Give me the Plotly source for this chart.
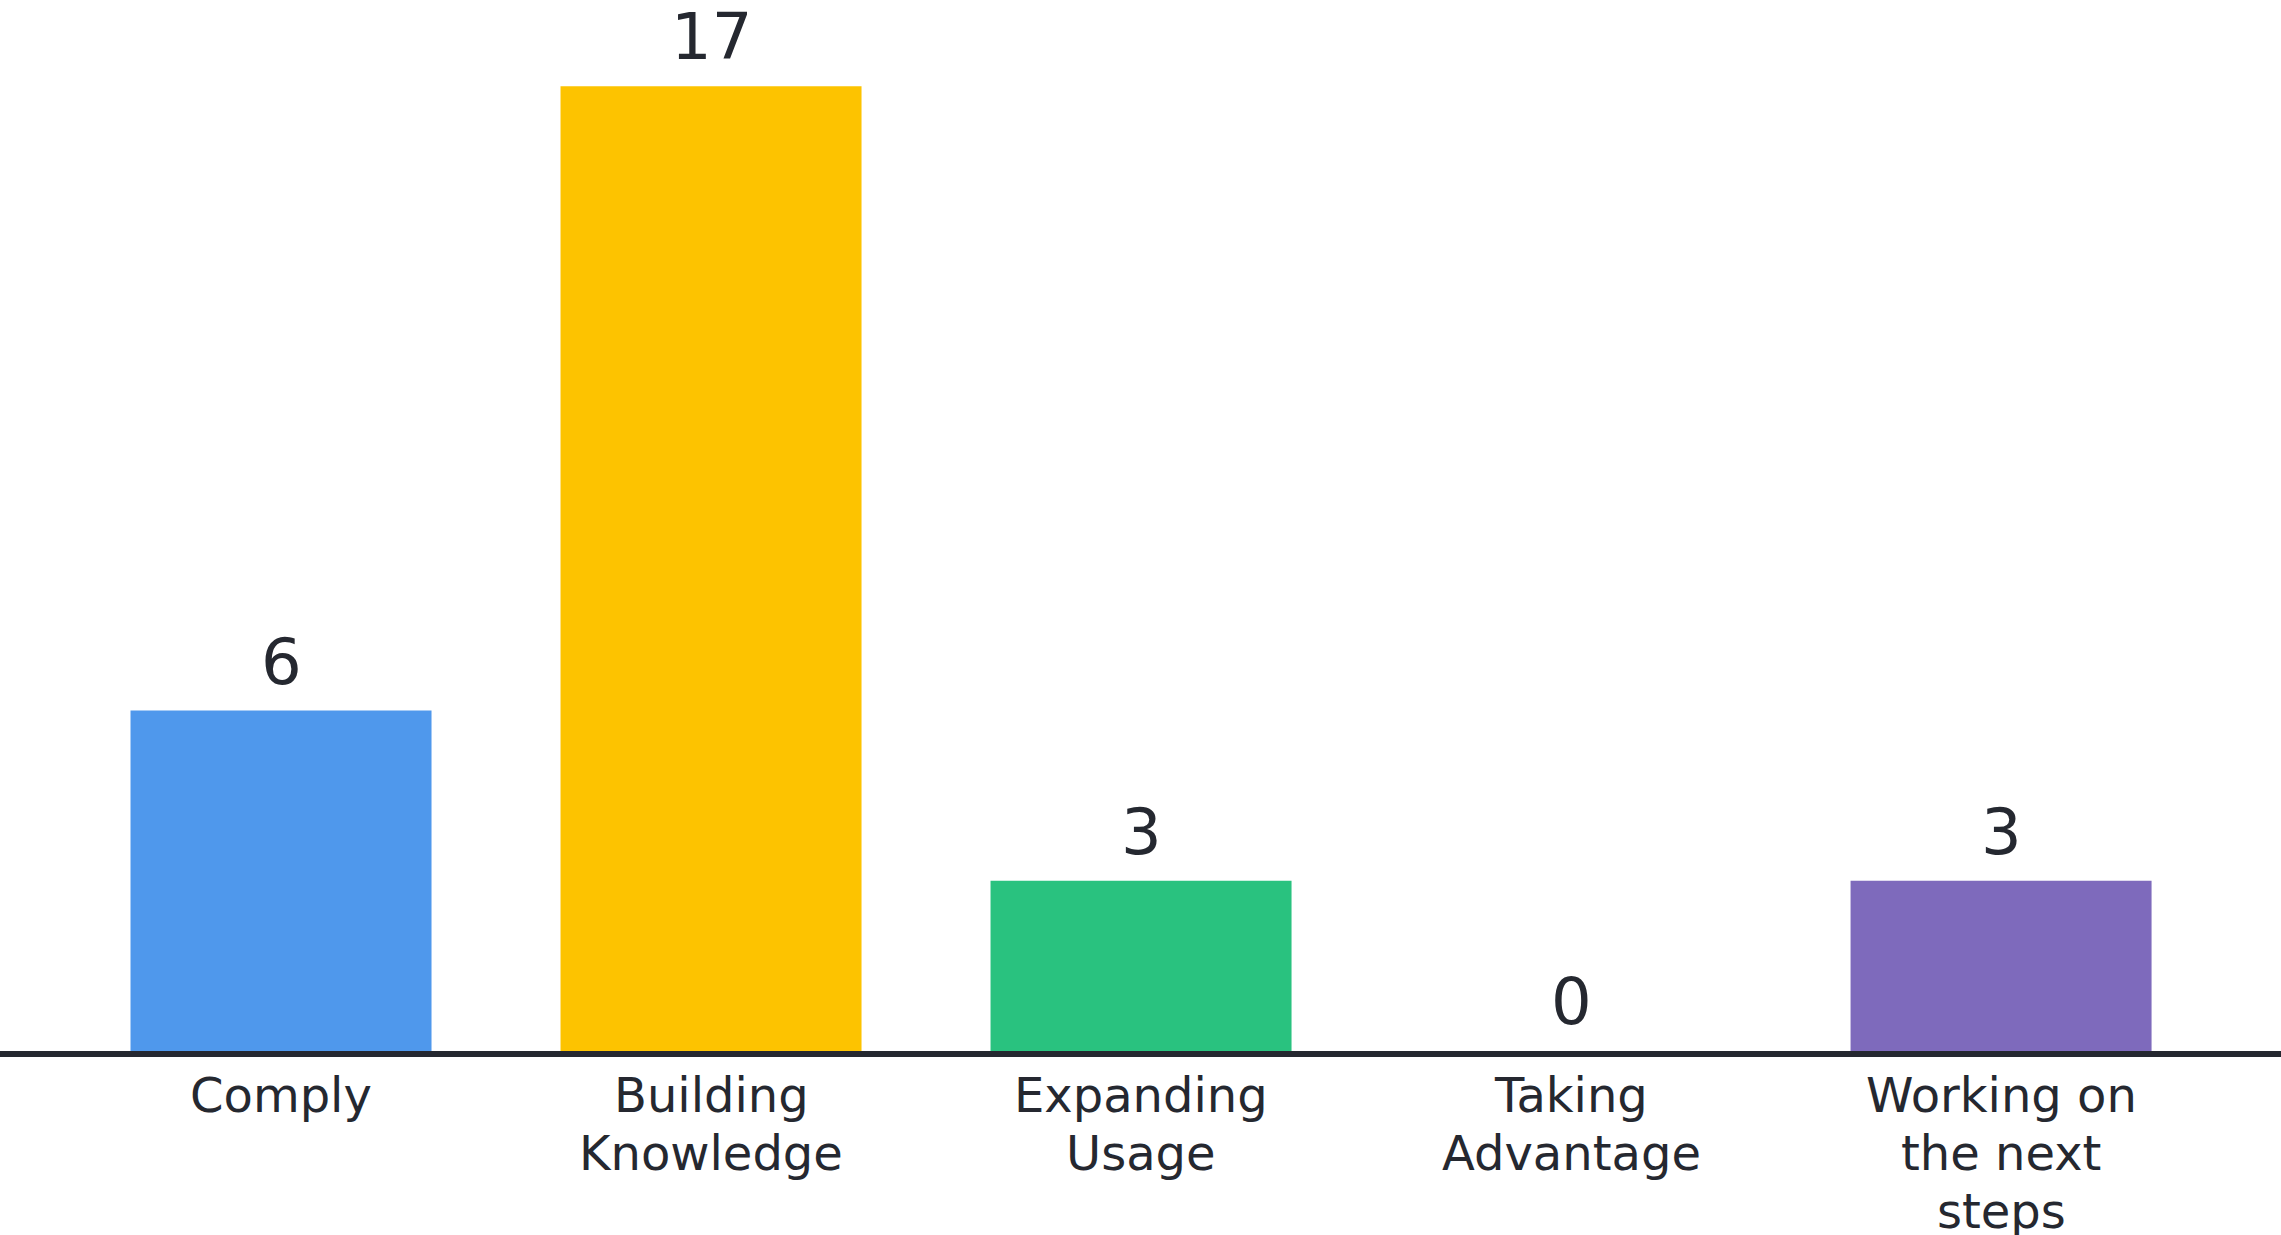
import plotly.graph_objects as go

categories = ["Comply", "Building Knowledge", "Expanding Usage", "Taking Advantage", "Working on the next steps"]
label_lines = [["Comply"], ["Building", "Knowledge"], ["Expanding", "Usage"], ["Taking", "Advantage"], ["Working on", "the next", "steps"]]
values = [6, 17, 3, 0, 3]
colors = ["#4F98EC", "#FDC300", "#29C27F", "#7E6ABC", "#7E6ABC"]

text_color = "#252830"
label_font = "'DejaVu Sans', Lato, sans-serif"

fig = go.Figure()
fig.add_trace(go.Bar(
    x=list(range(len(categories))),
    y=values,
    marker=dict(color=colors, line=dict(width=0)),
    width=0.70,
    hoverinfo="skip",
))

for i, v in enumerate(values):
    fig.add_annotation(
        x=i, y=v, xref="x", yref="y",
        text=str(v), showarrow=False,
        yanchor="bottom", yshift=10,
        font=dict(family=label_font, size=64, color=text_color),
    )

for i, lines in enumerate(label_lines):
    for j, line in enumerate(lines):
        fig.add_annotation(
            x=i, y=0, xref="x", yref="y",
            text=line, showarrow=False,
            yanchor="middle", yshift=-(44 + j * 58),
            font=dict(family=label_font, size=48, color=text_color),
        )

fig.update_layout(
    width=2281, height=1235,
    margin=dict(l=0, r=0, t=0, b=184),
    paper_bgcolor="white", plot_bgcolor="white",
    showlegend=False,
    font=dict(family=label_font, color=text_color),
)
fig.update_xaxes(
    range=[-0.6535, 4.651],
    showticklabels=False,
    showline=True, linecolor="#252830", linewidth=6,
    showgrid=False, zeroline=False, ticks="",
)
fig.update_yaxes(
    range=[0, 18.52], visible=False, showgrid=False, zeroline=False,
)

fig.write_html("out.html", config={"displayModeBar": False},
               post_script="document.body.style.margin='0';")
